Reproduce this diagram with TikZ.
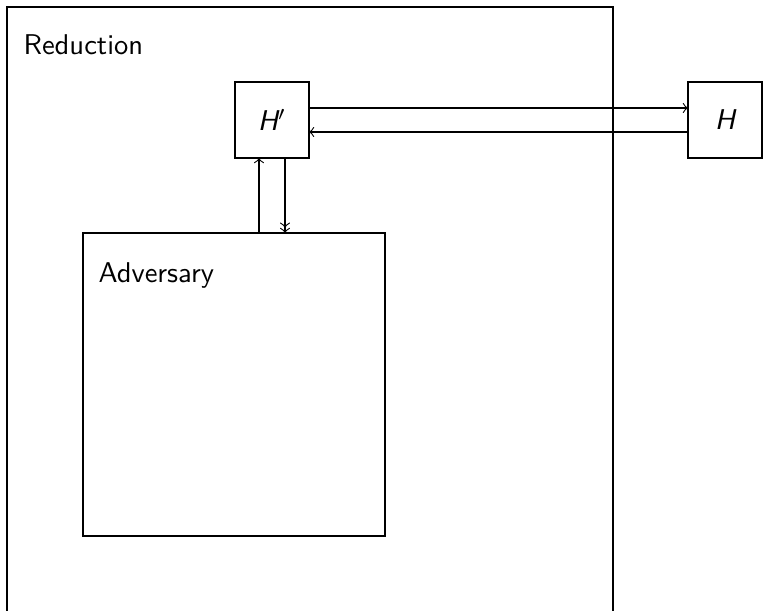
\documentclass[tikz,border=0pt]{standalone}
\usetikzlibrary{calc}
\begin{document}
\begin{tikzpicture}[x=0.35pt,y=-0.35pt,
  font=\sffamily,
  frame/.style={draw, line width=0.4pt, inner sep=0pt, outer sep=0pt},
  sqbox/.style={frame, minimum width=74*0.35pt, minimum height=76*0.35pt},
  tag/.style={anchor=base west, inner sep=0pt},
  link/.style={line width=0.4pt}]
\useasboundingbox (0,0) rectangle (763,611);
\clip (0,0) rectangle (763,611);

% outer reduction frame (runs past the lower edge)
\node[frame, minimum width=606*0.35pt, minimum height=620*0.35pt] (Red) at (310,317) {};
\node[tag] (RedLabel) at (23,55) {Reduction};

% oracle boxes
\node[sqbox] (Hp) at (272,120) {\itshape H$'$};
\node[sqbox] (H) at (725,120) {\itshape H};

% adversary
\node[frame, minimum width=302*0.35pt, minimum height=303*0.35pt] (Adv) at (234,384.5) {};
\node[tag] (AdvLabel) at (98,283) {Adversary};

% queries between H' and H
\draw[link,->] ([yshift=12*0.35pt]Hp.east) -- ([yshift=12*0.35pt]H.west);
\draw[link,->] ([yshift=-12*0.35pt]H.west) -- ([yshift=-12*0.35pt]Hp.east);

% queries between adversary and H'
\path ($(Hp.south)+(-13,0)$) coordinate (up) ($(Hp.south)+(13,0)$) coordinate (dn);
\draw[link,->] (up |- Adv.north) -- (up);
\draw[link,->>] (dn) -- (dn |- Adv.north);
\end{tikzpicture}
\end{document}
